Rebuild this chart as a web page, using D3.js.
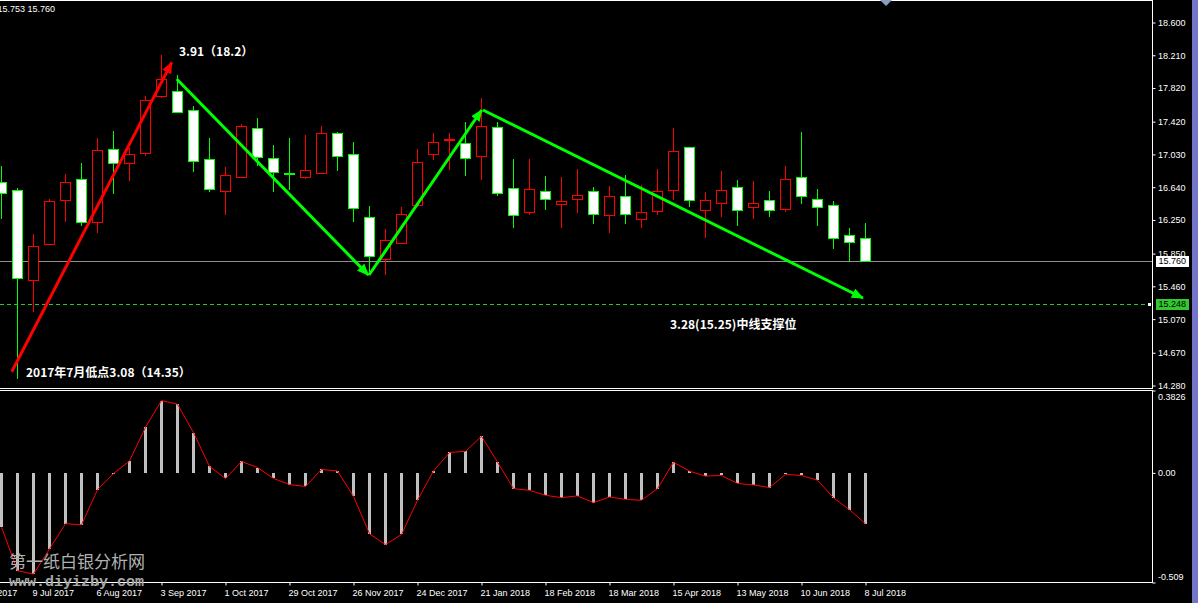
<!DOCTYPE html>
<html><head><meta charset="utf-8">
<script src="https://cdn.jsdelivr.net/npm/d3@7"></script>
<style>html,body{margin:0;padding:0;background:#000;overflow:hidden}</style>
</head><body>
<svg id="c" width="1198" height="603" style="display:block;background:#000"></svg>
<script>
// ---------- data ----------
const firstWeek = "2017-06-25";
const open  = [16.70,16.61,15.53,15.96,16.49,16.74,16.22,17.10,16.93,17.05,17.72,17.79,17.56,16.97,16.60,16.76,17.35,16.99,16.81,16.76,16.81,17.29,17.03,16.29,15.78,15.97,16.43,17.04,17.20,17.17,17.01,17.36,16.63,16.34,16.59,16.44,16.50,16.59,16.31,16.54,16.26,16.36,16.61,17.12,16.37,16.45,16.64,16.40,16.49,16.38,16.76,16.50,16.43,16.07,16.03];
const high  = [16.89,16.63,16.08,16.50,16.80,16.93,17.23,17.31,17.11,17.73,18.21,17.97,17.61,17.23,16.88,17.39,17.46,17.14,17.23,17.26,17.37,17.30,17.18,16.42,16.14,16.41,17.10,17.28,17.28,17.41,17.70,17.42,16.98,16.97,16.77,16.76,16.86,16.64,16.66,16.79,16.67,16.86,17.34,17.12,16.58,16.83,16.73,16.71,16.59,16.89,17.30,16.62,16.48,16.15,16.21];
const low   = [16.26,14.355,15.16,15.95,16.22,16.18,16.10,16.56,16.71,17.01,17.70,17.52,16.82,16.58,16.31,16.76,16.89,16.58,16.61,16.74,16.81,16.83,16.22,15.61,15.60,15.96,16.43,16.96,16.85,16.77,16.72,16.54,16.16,16.31,16.37,16.15,16.33,16.20,16.10,16.20,16.16,16.31,16.49,16.41,16.03,16.29,16.18,16.26,16.29,16.34,16.44,16.18,15.90,15.75,15.75];
const close = [16.57,15.56,15.94,16.48,16.70,16.22,17.08,16.93,17.03,17.68,17.93,17.53,16.95,16.62,16.79,17.37,17.00,16.82,16.80,16.85,17.28,17.01,16.39,15.82,16.01,16.32,16.94,17.18,17.21,16.99,17.37,16.57,16.31,16.62,16.50,16.48,16.55,16.32,16.54,16.32,16.35,16.60,17.07,16.49,16.49,16.61,16.37,16.45,16.37,16.74,16.53,16.40,16.04,15.99,15.76];
const osc   = [-0.252,-0.454,-0.470,-0.353,-0.236,-0.241,-0.078,-0.003,0.055,0.212,0.336,0.319,0.187,0.030,-0.026,0.053,0.025,-0.026,-0.054,-0.063,0.016,0.009,-0.109,-0.283,-0.333,-0.286,-0.127,0.009,0.095,0.100,0.170,0.050,-0.073,-0.081,-0.104,-0.115,-0.107,-0.138,-0.112,-0.123,-0.127,-0.073,0.049,0.008,-0.015,-0.012,-0.049,-0.056,-0.068,-0.007,-0.012,-0.034,-0.115,-0.171,-0.236];
const dateTicks  = ["11 Jun 2017","9 Jul 2017","6 Aug 2017","3 Sep 2017","1 Oct 2017","29 Oct 2017","26 Nov 2017","24 Dec 2017","21 Jan 2018","18 Feb 2018","18 Mar 2018","15 Apr 2018","13 May 2018","10 Jun 2018","8 Jul 2018"];
const priceTicks = [18.600,18.210,17.820,17.420,17.030,16.640,16.250,15.850,15.460,15.070,14.670,14.280];
const oscTicks   = [0.3826,0.00,-0.509];
const lastPrice = 15.760, supportPrice = 15.248;
const headerText = "15.753 15.760";
// annotation anchors: [week index, price]
const arrowRed    = [[0.64,14.444],[10.64,18.126]];
const arrowGreen1 = [[10.95,17.928],[22.93,15.595]];
const arrowGreen2 = [[22.97,15.595],[30.01,17.559]];
const arrowGreen3 = [[30.09,17.559],[53.84,15.321]];
const noteTexts = ["3.91（18.2）","2017年7月低点3.08（14.35）","3.28(15.25)中线支撑位"];
const noteAnchors = [[11.09,18.20],[1.53,14.38],[41.78,14.95]];

// ---------- scales ----------
const t0 = d3.utcParse("%Y-%m-%d")(firstWeek);
const WEEK = 7*864e5;
const dateAt = i => new Date(t0.getTime() + i*WEEK);
const dates = open.map((_, i) => dateAt(i));
const x = d3.scaleUtc().domain([dates[0], dates[dates.length-1]]).range([1.5, 865.5]);
const xi = i => x(dateAt(i));
const y = d3.scaleLinear().domain([14.28, 18.6]).range([385.5, 22.5]);
const yo = d3.scaleLinear().domain([-0.509, 0.3826]).range([582.5, 390.5]);

const svg = d3.select("#c");
const RED = "#ff0000", GREEN = "#00ff00";
const AX = 1152.5;

// right strip
svg.append("rect").attr("x",1192).attr("y",0).attr("width",6).attr("height",603).attr("fill","#7474c8");

// defs markers
const defs = svg.append("defs");
[["mRed",RED],["mGreen",GREEN]].forEach(([id,c])=>{
  defs.append("marker").attr("id",id).attr("markerUnits","userSpaceOnUse")
    .attr("viewBox","0 0 12 10").attr("refX",11).attr("refY",5)
    .attr("markerWidth",12).attr("markerHeight",10).attr("orient","auto")
    .append("path").attr("d","M0,0 L12,5 L0,10 Z").attr("fill",c);
});

// price lines
svg.append("line").attr("x1",0).attr("x2",AX).attr("y1",Math.round(y(lastPrice))+0.5).attr("y2",Math.round(y(lastPrice))+0.5)
  .attr("stroke","#909090").attr("stroke-width",1);
svg.append("line").attr("x1",0).attr("x2",1147).attr("y1",Math.round(y(supportPrice))+0.5).attr("y2",Math.round(y(supportPrice))+0.5)
  .attr("stroke","#22cc22").attr("stroke-width",1).attr("stroke-dasharray","4,3");
svg.append("rect").attr("x",1148).attr("y",Math.round(y(supportPrice))-1).attr("width",3).attr("height",3).attr("fill","#ffffff");

// candles
const cg = svg.append("g").attr("shape-rendering","crispEdges");
const idx = d3.range(open.length);
const bull = i => close[i] > open[i];
cg.selectAll("line.w").data(idx).join("line")
  .attr("x1", i => xi(i)).attr("x2", i => xi(i))
  .attr("y1", i => y(high[i])).attr("y2", i => y(low[i]))
  .attr("stroke", i => bull(i) ? RED : GREEN).attr("stroke-width",1);
cg.selectAll("rect.b").data(idx).join("rect")
  .attr("x", i => xi(i)-5).attr("width",10)
  .attr("y", i => Math.round(y(Math.max(open[i],close[i])))+0.5)
  .attr("height", i => Math.max(0, Math.round(y(Math.min(open[i],close[i]))) - Math.round(y(Math.max(open[i],close[i])))))
  .attr("fill", i => bull(i) ? "#000" : "#fff")
  .attr("stroke", i => bull(i) ? RED : GREEN).attr("stroke-width",1);

// arrows
function arrow(pts, color, mk){
  svg.append("line")
    .attr("x1", xi(pts[0][0])).attr("y1", y(pts[0][1]))
    .attr("x2", xi(pts[1][0])).attr("y2", y(pts[1][1]))
    .attr("stroke", color).attr("stroke-width", 3)
    .attr("marker-end", `url(#${mk})`);
}
arrow(arrowRed, RED, "mRed");
arrow(arrowGreen1, GREEN, "mGreen");
arrow(arrowGreen2, GREEN, "mGreen");
arrow(arrowGreen3, GREEN, "mGreen");

// notes
noteTexts.forEach((t,k)=>{
  svg.append("text").attr("x", xi(noteAnchors[k][0])).attr("y", y(noteAnchors[k][1]))
    .attr("fill","#fff").attr("font-family","'Noto Sans CJK SC', sans-serif")
    .attr("font-weight","bold").attr("font-size",12).text(t);
});

// oscillator
const og = svg.append("g").attr("shape-rendering","crispEdges");
og.selectAll("rect").data(idx).join("rect")
  .attr("x", i => xi(i)-1.5).attr("width",3)
  .attr("y", i => Math.min(yo(osc[i]), yo(0)))
  .attr("height", i => Math.abs(yo(osc[i]) - yo(0)))
  .attr("fill","#c0c0c0");
svg.append("path").datum(idx)
  .attr("d", d3.line().x(i => xi(i)).y(i => yo(osc[i])))
  .attr("fill","none").attr("stroke",RED).attr("stroke-width",1);

// panel borders
const bg = svg.append("g").attr("fill","none").attr("stroke","#fff").attr("stroke-width",1).attr("shape-rendering","crispEdges");
bg.append("path").attr("d",`M-2,0.5 H${AX} V388.5 H-2`);
bg.append("path").attr("d",`M-2,390.5 H${AX} V582.5 H-2`);

// top marker
svg.append("path").attr("d","M880,0 L892,0 L886,6 Z").attr("fill","#8c9cc0");

// price axis
const fontAx = "'Liberation Sans', Arial, sans-serif";
const pa = svg.append("g").attr("transform",`translate(${AX},0)`)
  .call(d3.axisRight(y).tickValues(priceTicks).tickSize(3).tickFormat(d3.format(".3f")));
pa.select(".domain").remove();
pa.selectAll("line").attr("stroke","#fff");
pa.selectAll("text").attr("fill","#fff").attr("font-family",fontAx).attr("font-size",9).attr("x",5.5);

// osc axis
const oa = svg.append("g").attr("transform",`translate(${AX},0)`)
  .call(d3.axisRight(yo).tickValues(oscTicks).tickSize(3).tickFormat((d,k)=> k===1 ? "0.00" : String(d)));
oa.select(".domain").remove();
oa.selectAll("line").attr("stroke","#fff");
oa.selectAll("text").attr("fill","#fff").attr("font-family",fontAx).attr("font-size",9).attr("x",5.5)
  .attr("dy",(d,k)=> k===0 ? "1.05em" : k===2 ? "-0.35em" : "0.32em");

// price boxes
function priceBox(p, bgc, fg){
  const yy = y(p);
  svg.append("rect").attr("x",1156).attr("y",Math.round(yy)-5).attr("width",33).attr("height",11).attr("fill",bgc);
  svg.append("text").attr("x",1158.5).attr("y",yy).attr("dy","0.34em").attr("fill",fg)
    .attr("font-family",fontAx).attr("font-size",9).text(d3.format(".3f")(p));
}
priceBox(lastPrice, "#ffffff", "#000000");
priceBox(supportPrice, "#32c832", "#000000");

// date axis
const parseTick = d3.utcParse("%d %b %Y");
const da = svg.append("g").attr("transform","translate(0,582.5)")
  .call(d3.axisBottom(x).tickValues(dateTicks.map(parseTick)).tickSize(3).tickFormat(d3.utcFormat("%-d %b %Y")));
da.select(".domain").remove();
da.selectAll("line").attr("stroke","#fff");
da.selectAll("text").attr("fill","#fff").attr("font-family",fontAx).attr("font-size",9)
  .attr("text-anchor","start").attr("x",-1.5).attr("y",13.5).attr("dy",null);

// header
svg.append("text").attr("x",-2.5).attr("y",11.5).attr("fill","#fff").attr("font-family",fontAx).attr("font-size",9).text(headerText);

// watermark
svg.append("text").attr("x",9).attr("y",568).attr("fill","#b0b0b0").attr("font-family","'Noto Sans CJK SC', sans-serif")
  .attr("font-size",17).text("第一纸白银分析网");
svg.append("text").attr("x",9).attr("y",586).attr("fill","#a8a8a8").attr("font-family","'Liberation Mono', monospace")
  .attr("font-weight","bold").attr("font-size",15).text("www.diyizby.com");
</script>
</body></html>
